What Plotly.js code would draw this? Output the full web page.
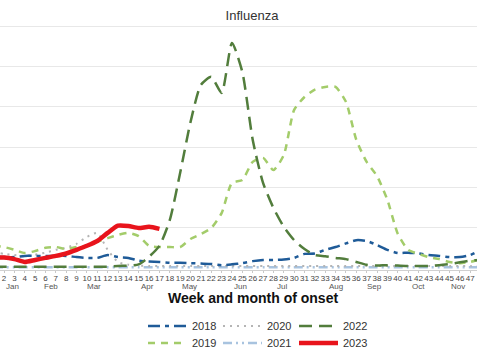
<!DOCTYPE html>
<html>
<head>
<meta charset="utf-8">
<script src="https://cdn.plot.ly/plotly-3.0.1.min.js"></script>
<style>html,body{margin:0;padding:0;background:#fff;}#chart{width:477px;height:358px;}</style>
</head>
<body>
<div id="chart"></div>
<script>
// Weeks of onset
var weeks = [1,2,3,4,5,6,7,8,9,10,11,12,13,14,15,16,17,18,19,20,21,22,23,24,25,26,27,28,29,30,31,32,33,34,35,36,37,38,39,40,41,42,43,44,45,46,47,48];
var weekLabels = weeks.map(String);

// Series values (gridline units)
var s2018 = [2.7,2.7,2.7,3.0,3.0,3.0,3.0,3.0,2.7,2.5,2.5,3.2,2.7,2.5,1.8,1.6,1.5,1.3,1.3,1.2,1.1,1.0,0.7,0.9,1.2,1.7,2.0,2.0,2.1,2.5,3.5,3.6,4.5,5.2,6.1,6.9,6.7,5.7,4.5,3.7,3.8,3.6,3.2,3.0,2.7,2.7,3.2,4.5];
var s2019 = [5.5,5.2,4.5,3.7,4.2,5.0,5.2,4.7,5.2,5.5,6.5,7.4,8.2,8.7,7.9,5.5,5.2,5.2,5.2,7.2,8.4,9.9,13.6,21.1,21.8,26.3,27.3,24.3,28.0,39.2,42.4,44.2,44.9,44.9,41.2,31.8,26.3,22.8,16.9,8.5,4.5,3.5,2.7,2.2,1.5,1.2,1.5,2.2];
var s2020 = [4.0,3.5,3.2,3.0,3.3,3.8,4.5,5.0,6.0,7.7,8.7,4.5,1.5,0.8,0.6,0.5,0.5,0.5,0.5,0.5,0.5,0.5,0.5,0.5,0.5,0.5,0.5,0.5,0.5,0.5,0.5,0.5,0.5,0.5,0.5,0.5,0.5,0.5,0.5,0.5,0.5,0.5,0.5,0.5,0.5,0.5,0.5,0.5];
var s2021 = [0.2,0.2,0.2,0.2,0.2,0.2,0.2,0.2,0.2,0.2,0.2,0.2,0.2,0.2,0.2,0.2,0.2,0.2,0.2,0.2,0.2,0.2,0.2,0.2,0.2,0.2,0.2,0.2,0.2,0.2,0.2,0.2,0.2,0.2,0.2,0.2,0.2,0.2,0.2,0.2,0.2,0.2,0.2,0.2,0.2,0.2,0.2,0.2];
var s2022 = [0.3,0.3,0.3,0.3,0.3,0.3,0.3,0.3,0.3,0.3,0.3,0.3,0.5,0.6,0.9,2.8,5.5,11.9,23.6,36.2,45.4,47.4,43.4,55.8,48.6,31.8,21.1,14.9,10.2,6.9,4.7,3.2,2.9,2.5,2.2,1.5,0.8,0.6,0.7,0.6,0.5,0.5,0.5,0.7,1.0,1.4,1.8,2.0];
var s2023 = [2.6,2.6,2.2,1.5,2.0,2.5,3.0,3.6,4.5,5.5,6.7,8.7,10.5,10.4,9.9,10.2,9.7];

// Month labels and their week positions
var monthLabels = ["Jan","Feb","Mar","Apr","May","Jun","Jul","Aug","Sep","Oct","Nov"];
var monthWeeks = [2.8,6.5,10.7,15.8,19.9,24.8,28.8,34.0,37.8,42.0,45.8];

var F = 'Liberation Sans, Arial, sans-serif';
function tr(name, y, color, dash, width, legend) {
  return {
    x: weeks.slice(0, y.length), y: y, name: name, type: 'scatter', mode: 'lines',
    line: {color: color, dash: dash, width: width, shape: 'spline', smoothing: 0.6},
    legend: legend
  };
}

var data = [
  tr('2021', s2021, '#a8c3df', '9px,4px,2px,4px,2px,4px', 2.5, 'legend5'),
  tr('2020', s2020, '#b5b5b5', '2px,5px', 2, 'legend2'),
  tr('2018', s2018, '#1f5b98', '12px,5px,4px,5px', 2.5, 'legend'),
  tr('2019', s2019, '#a3cc6a', '7px,6px', 2.5, 'legend4'),
  tr('2022', s2022, '#527d3c', '13px,7px', 2.5, 'legend3'),
  tr('2023', s2023, '#e8141c', 'solid', 4.5, 'legend6')
];

var annotations = monthLabels.map(function(m, i) {
  return {x: monthWeeks[i], xref: 'x', y: (270 - 286) / 246, yref: 'paper', text: m, showarrow: false,
    font: {family: F, size: 8, color: '#555'}, yanchor: 'middle', borderpad: 0};
});
annotations.push({x: 253/477, xref: 'paper', y: (270 - 298) / 246, yref: 'paper', text: '<b>Week and month of onset</b>',
  showarrow: false, yanchor: 'middle', borderpad: 0, font: {family: F, size: 14, color: '#111'}});

var legFont = {family: F, size: 11, color: '#333'};
function leg(xpx, ypx) {
  return {x: xpx/477, xanchor: 'left', y: (270 - ypx)/246, yanchor: 'middle', orientation: 'v',
    font: legFont, bgcolor: 'rgba(0,0,0,0)', itemwidth: 39};
}
var layout = {
  width: 477, height: 358,
  margin: {l: 0, r: 0, t: 24, b: 88, pad: 0, autoexpand: false},
  paper_bgcolor: '#fff', plot_bgcolor: '#fff',
  title: {text: 'Influenza', x: 252/477, xref: 'container', xanchor: 'center', y: 1 - 15/358, yref: 'container', yanchor: 'middle',
    font: {family: F, size: 13, color: '#333'}},
  xaxis: {range: [1.61, 47.65], tickmode: 'array', tickvals: weeks, ticktext: weekLabels, tickangle: 0,
    ticks: 'outside', ticklen: 2, tickcolor: '#c8c8c8', showgrid: false, zeroline: false,
    showline: true, linecolor: '#d0d0d0', linewidth: 1, automargin: false, ticklabelstandoff: -2,
    tickfont: {family: F, size: 8, color: '#444'}},
  yaxis: {range: [-0.5, 60.5], tickvals: [10,20,30,40,50,60], showticklabels: false,
    showgrid: true, gridcolor: '#e8e8e8', gridwidth: 1, zeroline: false, automargin: false},
  showlegend: true,
  legend: leg(143, 326),
  legend2: leg(218, 326),
  legend3: leg(294, 326),
  legend4: leg(143, 343),
  legend5: leg(218, 343),
  legend6: leg(294, 343),
  annotations: annotations
};

Plotly.newPlot('chart', data, layout, {displayModeBar: false, staticPlot: true});
</script>
</body>
</html>
